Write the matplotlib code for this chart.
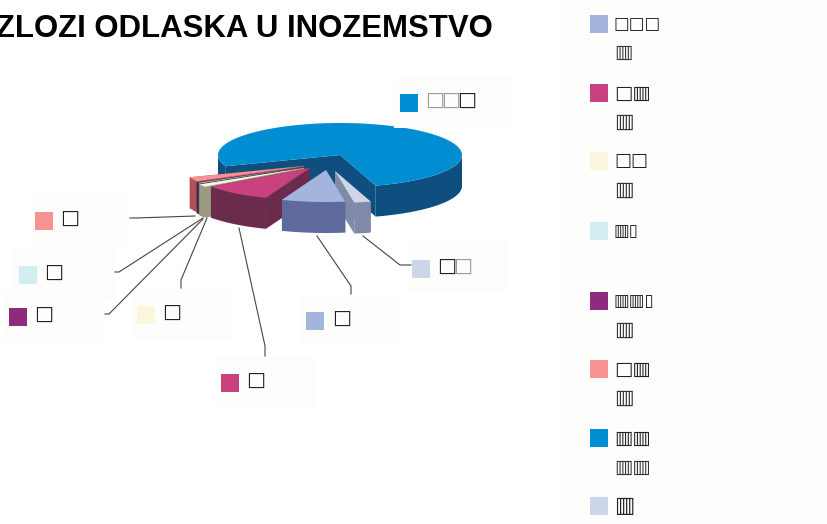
import numpy as np
import matplotlib
matplotlib.use('Agg')
import matplotlib.pyplot as plt
from matplotlib.patches import Polygon, Rectangle

title = 'RAZLOZI ODLASKA U INOZEMSTVO'
wide = '\u25a1'
slim = '\u25af'
barred = '\u25a5'

# slice shares in %, counter clockwise starting from the big blue one
names = ['blue', 'salmon', 'purple', 'cyan', 'cream', 'magenta', 'periwinkle', 'lavender']
values = [76.0, 2.2, 0.4, 0.3, 1.3, 9.2, 8.4, 2.2]
top_colors = ['#008dd2', '#f69290', '#8e2b7f', '#d4edf0', '#fbf7dc', '#c9417f', '#a3b4dd', '#cdd6e8']
side_colors = ['#0f4f80', '#b25059', '#3a2050', '#3f4460', '#9c9b80', '#6b2c4c', '#5e6a9e', '#7f89a8']

# how the slices are pulled out of the pie, pixels
shift = {'blue': (0, 0), 'salmon': (-36, 11), 'purple': (-36, 12), 'cyan': (-36, 12),
         'cream': (-36, 13), 'magenta': (-30, 13), 'periwinkle': (-14, 15), 'lavender': (-5, 16)}

cx, cy = 340, 155
rx, ry = 122, 32
depth = 31
start = -73.0

legend_swatch = ['#a3b4dd', '#c9417f', '#fbf7dc', '#d4edf0', '#8e2b7f', '#f69290', '#008dd2', '#cdd6e8']
legend_y = [24, 93, 161, 231, 301, 369, 438, 506]
# second text line per legend entry, None if there is none
legend_y2 = [52, 122, 190, None, 330, 398, 467, None]
legend_line1 = [wide * 3, wide + barred, wide * 2, barred + slim, barred * 2 + slim, wide + barred, barred * 2, barred]
legend_line2 = [barred, barred, barred, None, barred, barred, barred * 2, None]
legend_size1 = [12, 14, 13, 12, 12, 14, 14, 15.5]
legend_size2 = [14, 15, 15, None, 15, 15, 14, None]

# label boxes around the pie: x0, y0, x1, y1, swatch x, swatch y, text x
labels = {'blue': (394, 77, 512, 128, 400, 94, [425, 441, 457]),
          'salmon': (30, 194, 130, 246, 35, 212, [60]),
          'cyan': (13, 248, 115, 300, 19, 266, [44]),
          'purple': (3, 290, 105, 342, 9, 308, [34]),
          'cream': (131, 288, 233, 340, 137, 306, [162]),
          'magenta': (214, 356, 316, 410, 221, 374, [246]),
          'periwinkle': (300, 294, 401, 346, 306, 312, [332]),
          'lavender': (407, 240, 508, 292, 412, 260, [437, 453])}
label_alpha = {'blue': [0.45, 0.45, 1], 'lavender': [1, 0.45]}

leaders = [[(130, 218), (136, 218), (195, 216)],
           [(115, 272), (119, 272), (203, 218)],
           [(105, 314), (109, 314), (203, 219)],
           [(181, 288), (181, 280), (207, 218)],
           [(265, 356), (265, 346), (239, 228)],
           [(351, 294), (351, 286), (317, 236)],
           [(411, 265), (400, 265), (363, 236)]]


def arc(t1, t2, ox, oy):
    t = np.radians(np.linspace(t1, t2, 80))
    return np.column_stack([cx + ox + rx * np.cos(t), cy + oy - ry * np.sin(t)])


def draw_slice(ax, t1, t2, top, side, ox, oy):
    apex = np.array([cx + ox, cy + oy])
    rim = arc(t1, t2, ox, oy)
    down = np.array([0, depth])
    # cut faces
    for p in (rim[0], rim[-1]):
        face = np.array([apex, p, p + down, apex + down])
        ax.add_patch(Polygon(face, closed=True, fc=side, ec='none'))
    # outer wall, only the part turned to the viewer
    for lo, hi in [(-180, 0), (180, 360)]:
        a1, a2 = max(t1, lo), min(t2, hi)
        if a2 > a1:
            wall = arc(a1, a2, ox, oy)
            ax.add_patch(Polygon(np.vstack([wall, wall[::-1] + down]), closed=True, fc=side, ec='none'))
    ax.add_patch(Polygon(np.vstack([apex, rim]), closed=True, fc=top, ec='none'))


fig = plt.figure(figsize=(8.28, 5.24), dpi=100)
ax = fig.add_axes([0, 0, 1, 1])
ax.set_xlim(0, 828)
ax.set_ylim(524, 0)
ax.axis('off')

ax.text(493, 29, title, fontsize=22.4, fontweight='bold', family='Liberation Sans', ha='right', va='center', color='black')

# legend panel
ax.add_patch(Rectangle((558, 2), 270, 522, fc='#fdfdfb', ec='none'))
for i in range(len(legend_swatch)):
    ax.add_patch(Rectangle((590, legend_y[i] - 9), 18, 18, fc=legend_swatch[i], ec='none'))
    ax.text(614, legend_y[i], legend_line1[i], fontsize=legend_size1[i], color='#222222', ha='left', va='center', family='DejaVu Sans')
    if legend_y2[i] is not None:
        ax.text(614, legend_y2[i], legend_line2[i], fontsize=legend_size2[i], color='#333333', ha='left', va='center', family='DejaVu Sans')

# pie, blue first since it sits at the back, then left to right towards the front
shares = np.array(values) / sum(values) * 360
edges = start + np.concatenate([[0], np.cumsum(shares)])
order = ['blue', 'salmon', 'purple', 'cyan', 'cream', 'lavender', 'magenta', 'periwinkle']
for n in order:
    i = names.index(n)
    ox, oy = shift[n]
    draw_slice(ax, edges[i], edges[i + 1], top_colors[i], side_colors[i], ox, oy)

for pts in leaders:
    xs, ys = zip(*pts)
    ax.plot(xs, ys, color='#444444', linewidth=0.8)

for n, (x0, y0, x1, y1, sx, sy, tx) in labels.items():
    i = names.index(n)
    ax.add_patch(Rectangle((x0, y0), x1 - x0, y1 - y0, fc='#fdfdfb', ec='none'))
    ax.add_patch(Rectangle((sx, sy), 18, 18, fc=top_colors[i], ec='none'))
    for j, x in enumerate(tx):
        a = label_alpha.get(n, [1] * len(tx))[j]
        ax.text(x, sy + 6, wide, fontsize=14.5, color='#222222', alpha=a, ha='left', va='center', family='DejaVu Sans')

fig.savefig('out.png', dpi=100)
